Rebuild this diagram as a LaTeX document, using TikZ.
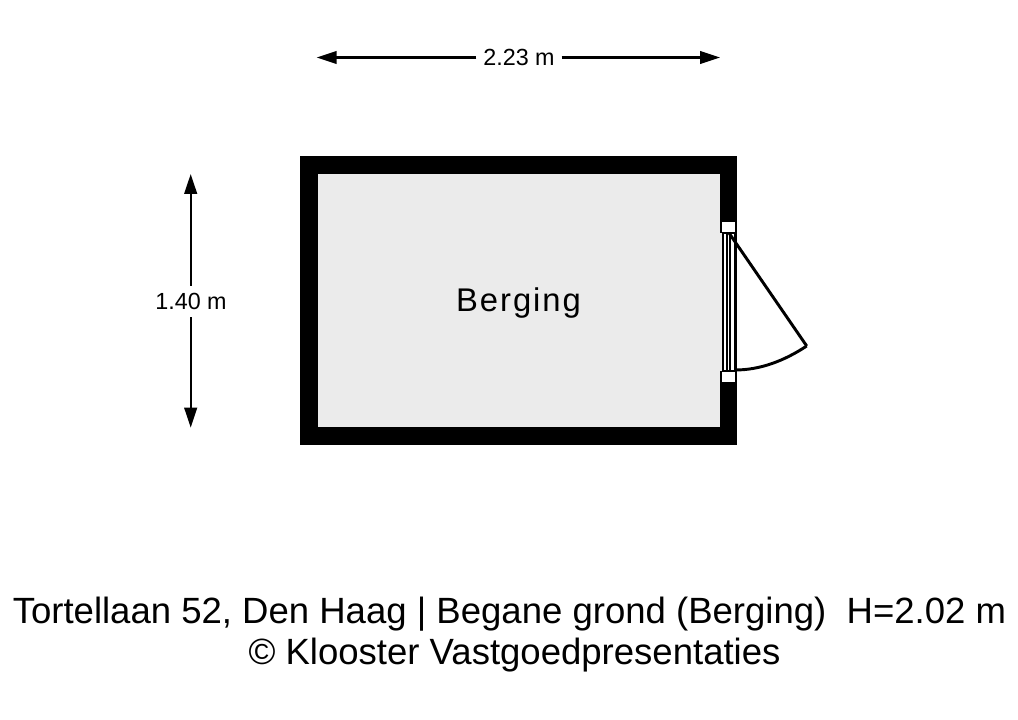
\documentclass[tikz,border=0pt]{standalone}
\usepackage{fontspec}
\setmainfont{Liberation Sans}
\usetikzlibrary{arrows.meta}
\definecolor{floorgrey}{RGB}{235,235,235}
\tikzset{
  dimhalf/.style={line width=1.6pt,-{Triangle[length=15pt,width=9.5pt]}},
  dimlabel/.style={inner xsep=5pt,inner ysep=5.5pt,font=\fontsize{17.5pt}{19pt}\selectfont},
  doorline/.style={line width=2.2pt},
  titlelabel/.style={inner sep=0.75pt,anchor=base,font=\fontsize{27.4pt}{29pt}\selectfont},
}
\begin{document}
\begin{tikzpicture}[x=0.75pt,y=0.75pt,yscale=-1,xscale=1]
\useasboundingbox (0,0) rectangle (1018,720);

%Walls
\fill [black] (299.5,156.5) rectangle (737.3,445);
\fill [floorgrey] (317.5,174.3) rectangle (720,427.3);
%Door opening
\fill [floorgrey] (720,233) rectangle (722,371);
\fill [white] (722,233) rectangle (737.3,371);
\fill [white] (722,222) rectangle (735,233);
\fill [white] (722,371) rectangle (735,382);
\foreach \xpos in {723,726.7,730.3}
  \draw [line width=1.3pt] (\xpos,233) -- (\xpos,371);
\draw [line width=1.7pt] (735.5,233) -- (735.5,371);
\draw [line width=1.5pt] (722,233) -- (736.5,233);
\draw [line width=1.5pt] (722,371) -- (736.5,371);
%Door leaf
\coordinate (hinge) at (729,233);
\coordinate (leaf) at (806.7,346);
\coordinate (strike) at (735,370);
\draw [doorline] (hinge) -- (leaf);
\draw [doorline] (leaf) .. controls (784,361) and (760,370) .. (strike);

% Dimensions
\node [dimlabel] (width) at (519,57.5) {2.23 m};
\coordinate (widthl) at (316.7,57.5);
\coordinate (widthr) at (720,57.5);
\draw [dimhalf] (width) -- (widthl);
\draw [dimhalf] (width) -- (widthr);
\node [dimlabel] (height) at (191,301.5) {1.40 m};
\coordinate (heightt) at (190.7,174);
\coordinate (heightb) at (190.7,427.7);
\draw [dimhalf] (height.north -| heightt) -- (heightt);
\draw [dimhalf] (height.south -| heightb) -- (heightb);

% Text Node
\node [inner sep=0.75pt,font=\fontsize{24.6pt}{26pt}\selectfont] (room) at (518.5,303.5) {\addfontfeature{LetterSpace=6}Berging};
\node [titlelabel] (title) at (509.5,623) {Tortellaan 52, Den Haag | Begane grond (Berging)\ \ H=2.02 m};
\node [titlelabel] (credit) at (514.5,664) {© Klooster Vastgoedpresentaties};
\end{tikzpicture}
\end{document}
